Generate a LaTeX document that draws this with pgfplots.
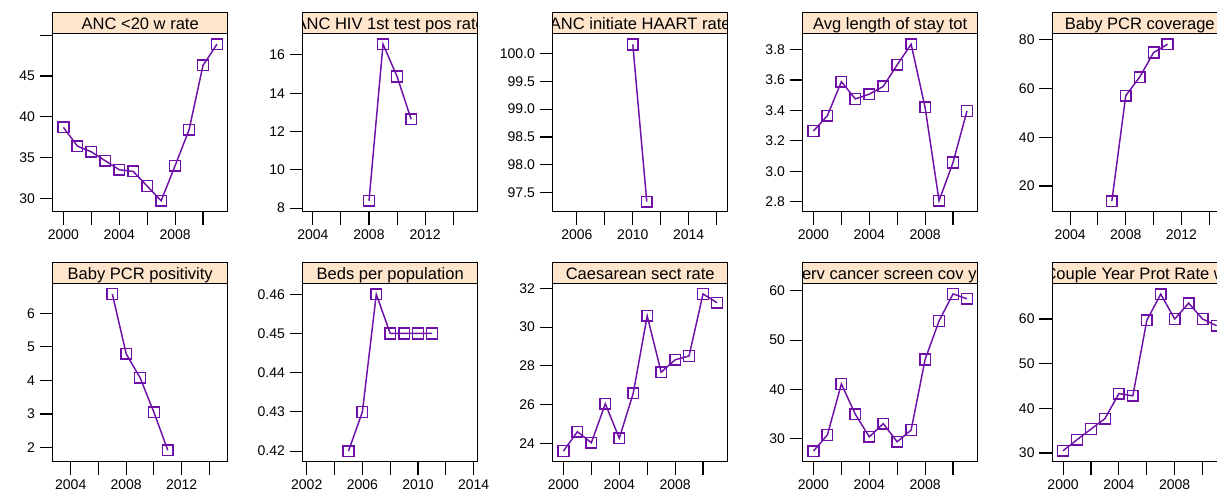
\documentclass[border=0pt]{standalone}
\usepackage{fontspec}
\setmainfont{Liberation Sans}
\usepackage{pgfplots}
\pgfplotsset{compat=1.18}
\definecolor{stripcol}{HTML}{FFE5CC}
\definecolor{linecol}{HTML}{6E10A8}
\newcommand{\stripfont}{\fontsize{12.4}{14}\selectfont}
\newcommand{\strip}[3]{%
  \begin{scope}
    \clip (#1,#2) rectangle ++(131.25pt,15.45pt);
    \fill[stripcol] (#1,#2) rectangle ++(131.25pt,15.45pt);
    \path (#1,#2) ++(65.625pt,3.1pt) node[anchor=base,inner sep=0pt,font=\stripfont] {#3};
  \end{scope}
  \draw[line width=0.8pt] (#1,#2) rectangle ++(131.25pt,15.45pt);
}
\pgfplotsset{panel/.style={
  scale only axis, width=131.25pt, height=133.8pt, anchor=south west,
  axis line style={line width=0.8pt},
  tick align=outside, xtick pos=bottom, ytick pos=left,
  major tick length=9.8pt,
  every tick/.style={black, line width=0.8pt},
  tick label style={font=\fontsize{10.5}{12}\selectfont},
  /pgf/number format/assume math mode=true,
  clip=false,
  every axis plot post/.append style={color=linecol, line width=1.1pt, mark=square, mark size=4pt, mark options={solid, line width=1.1pt}},
 },
 yrA/.style={xmin=1999.23, xmax=2011.77, xtick={2000,2002,...,2010}, xticklabels={2000,,2004,,2008,}},
}
\begin{document}
\begin{tikzpicture}
\begin{scope}
\clip (0,0) rectangle (912.75pt,375.75pt);
% Row 1
\begin{axis}[panel, yrA, at={(39.53pt,216.98pt)}, ymin=28.36, ymax=50.24,
  ytick={30,35,40,45,50}, yticklabels={30,35,40,45,}]
\addplot coordinates {(2000,38.7)(2001,36.4)(2002,35.7)(2003,34.6)(2004,33.5)(2005,33.3)(2006,31.5)(2007,29.7)(2008,34.0)(2009,38.4)(2010,46.3)(2011,48.9)};
\end{axis}
\begin{axis}[panel, at={(227.03pt,216.98pt)}, xmin=2003.28, xmax=2015.74,
  xtick={2004,2006,...,2014}, xticklabels={2004,,2008,,2012,},
  ymin=7.81, ymax=17.13, ytick={8,10,12,14,16}, yticklabels={8,10,12,14,16}]
\addplot coordinates {(2008,8.38)(2009,16.56)(2010,14.87)(2011,12.64)};
\end{axis}
\begin{axis}[panel, at={(414.53pt,216.98pt)}, xmin=2004.27, xmax=2016.79,
  xtick={2006,2008,...,2016}, xticklabels={2006,,2010,,2014,},
  ymin=97.16, ymax=100.36, ytick={97.5,98,98.5,99,99.5,100}, yticklabels={97.5,98.0,98.5,99.0,99.5,100.0}]
\addplot coordinates {(2010,100.16)(2011,97.34)};
\end{axis}
\begin{axis}[panel, yrA, at={(602.03pt,216.98pt)},
  ymin=2.735, ymax=3.907, ytick={2.8,3.0,3.2,3.4,3.6,3.8}, yticklabels={2.8,3.0,3.2,3.4,3.6,3.8}]
\addplot coordinates {(2000,3.265)(2001,3.366)(2002,3.589)(2003,3.476)(2004,3.507)(2005,3.558)(2006,3.70)(2007,3.835)(2008,3.42)(2009,2.807)(2010,3.058)(2011,3.396)};
\end{axis}
\begin{axis}[panel, at={(789.23pt,216.98pt)}, xmin=2002.72, xmax=2015.3,
  xtick={2004,2006,...,2014}, xticklabels={2004,,2008,,2012,},
  ymin=9.45, ymax=82.7, ytick={20,40,60,80}, yticklabels={20,40,60,80}]
\addplot coordinates {(2007,13.8)(2008,57.1)(2009,64.7)(2010,74.8)(2011,78.2)};
\end{axis}
% Row 2
\begin{axis}[panel, at={(39.53pt,29.48pt)}, xmin=2002.70, xmax=2015.32,
  xtick={2004,2006,...,2014}, xticklabels={2004,,2008,,2012,},
  ymin=1.58, ymax=6.89, ytick={2,3,4,5,6}, yticklabels={2,3,4,5,6}]
\addplot coordinates {(2007,6.57)(2008,4.79)(2009,4.08)(2010,3.05)(2011,1.92)};
\end{axis}
\begin{axis}[panel, at={(227.03pt,29.48pt)}, xmin=2001.71, xmax=2014.29,
  xtick={2002,2004,...,2014}, xticklabels={2002,,2006,,2010,,2014},
  ymin=0.4173, ymax=0.4628, ytick={0.42,0.43,0.44,0.45,0.46}, yticklabels={0.42,0.43,0.44,0.45,0.46}]
\addplot coordinates {(2005,0.42)(2006,0.43)(2007,0.46)(2008,0.45)(2009,0.45)(2010,0.45)(2011,0.45)};
\end{axis}
\begin{axis}[panel, yrA, at={(414.53pt,29.48pt)},
  ymin=23.05, ymax=32.26, ytick={24,26,28,30,32}, yticklabels={24,26,28,30,32}]
\addplot coordinates {(2000,23.6)(2001,24.6)(2002,24.03)(2003,26.04)(2004,24.26)(2005,26.58)(2006,30.58)(2007,27.67)(2008,28.31)(2009,28.51)(2010,31.71)(2011,31.26)};
\end{axis}
\begin{axis}[panel, yrA, at={(602.03pt,29.48pt)},
  ymin=25.25, ymax=61.56, ytick={30,40,50,60}, yticklabels={30,40,50,60}]
\addplot coordinates {(2000,27.4)(2001,30.7)(2002,41.07)(2003,34.9)(2004,30.3)(2005,33.0)(2006,29.3)(2007,31.7)(2008,46.06)(2009,53.9)(2010,59.4)(2011,58.4)};
\end{axis}
\begin{axis}[panel, yrA, at={(789.23pt,29.48pt)},
  ymin=28.05, ymax=68.0, ytick={30,40,50,60}, yticklabels={30,40,50,60}]
\addplot coordinates {(2000,30.5)(2001,32.97)(2002,35.35)(2003,37.7)(2004,43.3)(2005,42.8)(2006,59.7)(2007,65.57)(2008,60.0)(2009,63.56)(2010,60.0)(2011,58.5)};
\end{axis}
% Strips
\strip{39.53pt}{350.78pt}{ANC <20 w rate}
\strip{227.03pt}{350.78pt}{ANC HIV 1st test pos rate}
\strip{414.53pt}{350.78pt}{ANC initiate HAART rate}
\strip{602.03pt}{350.78pt}{Avg length of stay tot}
\strip{789.23pt}{350.78pt}{Baby PCR coverage}
\strip{39.53pt}{163.28pt}{Baby PCR positivity}
\strip{227.03pt}{163.28pt}{Beds per population}
\strip{414.53pt}{163.28pt}{Caesarean sect rate}
\strip{602.03pt}{163.28pt}{Cerv cancer screen cov yrs}
\strip{789.23pt}{163.28pt}{Couple Year Prot Rate wo}
\end{scope}
\pgfresetboundingbox
\useasboundingbox (0,0) rectangle (912.75pt,375.75pt);
\end{tikzpicture}
\end{document}
